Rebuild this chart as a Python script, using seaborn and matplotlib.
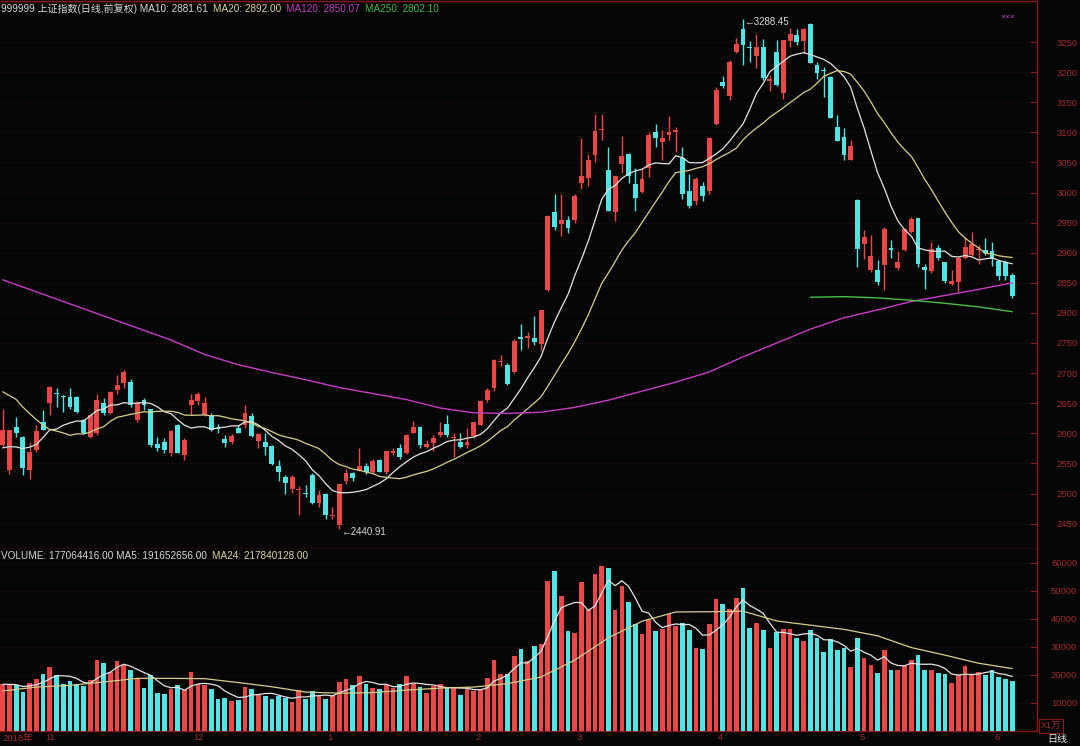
import numpy as np
import pandas as pd
import matplotlib
matplotlib.use("Agg")
import matplotlib.pyplot as plt
import seaborn as sns

# ------------------------------------------------------------------ data
month_labels = ["2018年", "11", "12", "1", "2", "3", "4", "5", "6"]
month_start_idx = [6, 28, 48, 70, 85, 106, 127, 147]

pre_closes = [2730.85, 2729.24, 2797.49, 2781.14, 2806.81, 2791.77, 2821.35,
              2716.51, 2721.01, 2725.84, 2583.46, 2606.91, 2568.10, 2546.33,
              2561.61, 2486.42, 2550.47, 2654.88, 2594.83]

open_ = [2581, 2539, 2611, 2594, 2539, 2573, 2618, 2650, 2667, 2662,
         2661, 2661, 2622, 2594, 2600, 2650, 2633, 2672, 2683, 2686,
         2622, 2656, 2640, 2582, 2586, 2567, 2614, 2564, 2647, 2653,
         2630, 2630, 2609, 2591, 2586, 2608, 2614, 2629, 2588, 2586,
         2579, 2545, 2528, 2507, 2506, 2501, 2531, 2484, 2500, 2463,
         2448, 2520, 2534, 2538, 2546, 2536, 2556, 2536, 2568, 2575,
         2567, 2600, 2611, 2577, 2584, 2597, 2616, 2593, 2586, 2581,
         2595, 2614, 2656, 2675, 2718, 2713, 2701, 2760, 2759, 2759,
         2749, 2838, 2968, 2948, 2955, 2955, 3015, 3024, 3062, 3103,
         3038, 2968, 3048, 3064, 3014, 3001, 3040, 3101, 3084, 3096,
         3101, 3058, 3003, 2986, 3010, 3002, 3114, 3184, 3160, 3234,
         3271, 3241, 3226, 3242, 3186, 3234, 3166, 3251, 3262, 3251,
         3280, 3212, 3204, 3192, 3109, 3093, 3054, 2987, 2915, 2871,
         2872, 2880, 2907, 2874, 2905, 2935, 2957, 2877, 2869, 2907,
         2884, 2848, 2852, 2891, 2896, 2904, 2905, 2902, 2887, 2885,
         2863]

high = [2640, 2606, 2627, 2595, 2586, 2614, 2638, 2678, 2675, 2663,
        2676, 2662, 2623, 2631, 2666, 2658, 2670, 2697, 2705, 2691,
        2653, 2658, 2641, 2594, 2592, 2605, 2615, 2592, 2666, 2668,
        2661, 2633, 2615, 2597, 2599, 2614, 2647, 2633, 2601, 2600,
        2580, 2556, 2531, 2531, 2513, 2514, 2534, 2505, 2501, 2478,
        2516, 2540, 2536, 2575, 2551, 2557, 2558, 2571, 2575, 2583,
        2599, 2621, 2612, 2589, 2597, 2618, 2630, 2600, 2600, 2608,
        2618, 2655, 2675, 2724, 2730, 2716, 2756, 2781, 2769, 2795,
        2805, 2962, 2997, 2997, 2961, 2997, 3091, 3064, 3130, 3130,
        3076, 3028, 3094, 3066, 3040, 3040, 3101, 3114, 3104, 3127,
        3108, 3075, 3030, 3025, 3018, 3093, 3176, 3193, 3220, 3256,
        3288.45, 3251, 3264, 3255, 3195, 3253, 3254, 3273, 3271, 3273,
        3281, 3217, 3209, 3193, 3129, 3107, 3087, 2990, 2938, 2929,
        2888, 2943, 2921, 2903, 2940, 2959, 2958, 2882, 2918, 2913,
        2885, 2871, 2893, 2926, 2935, 2913, 2924, 2918, 2888, 2888,
        2866]

low = [2578, 2533, 2594, 2531, 2524, 2569, 2605, 2630, 2644, 2636,
       2640, 2633, 2599, 2592, 2597, 2630, 2632, 2666, 2675, 2644,
       2619, 2639, 2578, 2570, 2567, 2563, 2567, 2556, 2630, 2647,
       2629, 2604, 2601, 2578, 2583, 2600, 2608, 2594, 2575, 2564,
       2547, 2520, 2499, 2501, 2464, 2495, 2483, 2478, 2457, 2457,
       2440.91, 2516, 2520, 2537, 2533, 2533, 2535, 2533, 2564, 2558,
       2566, 2600, 2575, 2575, 2571, 2594, 2594, 2561, 2575, 2575,
       2593, 2613, 2652, 2671, 2711, 2680, 2700, 2738, 2741, 2747,
       2738, 2836, 2937, 2927, 2932, 2950, 3006, 3010, 3051, 3087,
       2969, 2953, 3032, 3015, 2970, 3000, 3026, 3076, 3054, 3087,
       3068, 2990, 2975, 2980, 2986, 2998, 3112, 3173, 3154, 3231,
       3212, 3217, 3206, 3187, 3169, 3177, 3155, 3242, 3245, 3231,
       3215, 3188, 3159, 3123, 3086, 3054, 3054, 2876, 2889, 2868,
       2846, 2838, 2892, 2872, 2903, 2933, 2876, 2839, 2867, 2888,
       2849, 2846, 2834, 2889, 2895, 2882, 2896, 2878, 2854, 2855,
       2824]

close = [2605, 2605, 2601, 2542, 2569, 2604, 2606, 2677, 2665, 2660,
         2644, 2636, 2600, 2630, 2655, 2633, 2669, 2680, 2702, 2647,
         2650, 2647, 2581, 2575, 2573, 2603, 2568, 2589, 2655, 2666,
         2651, 2605, 2607, 2584, 2596, 2601, 2634, 2596, 2599, 2578,
         2549, 2536, 2517, 2528, 2507, 2500, 2484, 2498, 2464, 2465,
         2515, 2534, 2526, 2545, 2535, 2554, 2536, 2570, 2570, 2560,
         2597, 2611, 2580, 2583, 2592, 2602, 2597, 2594, 2577, 2585,
         2618, 2654, 2672, 2721, 2720, 2682, 2754, 2756, 2761, 2752,
         2804, 2961, 2942, 2954, 2941, 2994, 3028, 3054, 3102, 3106,
         2970, 3027, 3060, 3027, 2991, 3022, 3096, 3091, 3091, 3101,
         3104, 2997, 2977, 3023, 2995, 3091, 3170, 3177, 3216, 3247,
         3245, 3240, 3242, 3190, 3189, 3178, 3254, 3263, 3250, 3271,
         3215, 3199, 3202, 3124, 3086, 3063, 3078, 2906, 2926, 2894,
         2851, 2939, 2904, 2884, 2939, 2956, 2882, 2871, 2906, 2892,
         2853, 2853, 2892, 2910, 2915, 2906, 2899, 2890, 2862, 2861,
         2828]

# volume in units of 10,000 (x1万)
volume = [16660, 16660, 16300, 13920, 17140, 18680, 20470, 22850, 19870, 16660,
          17730, 16660, 15950, 18090, 25470, 24400, 21060, 24870, 23440, 21900,
          18680, 15470, 19870, 13690, 13090, 15110, 16300, 14520, 21060, 16900,
          16300, 14880, 11540, 11900, 10590, 10950, 15710, 15110, 12730, 12380,
          11310, 12500, 11900, 10350, 14520, 11540, 14160, 12500, 11540, 12730,
          17490, 18450, 16300, 19640, 16660, 15470, 15110, 16540, 15350, 16900,
          19640, 17260, 15710, 13690, 16070, 16660, 15350, 15710, 12970, 15710,
          14160, 15110, 19040, 25230, 20230, 20230, 26660, 29390, 24990, 30350,
          30940, 53550, 57120, 48080, 35700, 35110, 53190, 43080, 55930, 58900,
          58310, 43320, 51770, 46050, 38080, 34750, 39750, 35700, 36300, 41890,
          37490, 38600, 35940, 29630, 29390, 38080, 47000, 45220, 43440, 47480,
          51070, 36890, 38680, 35940, 29630, 35340, 36300, 36300, 33320, 32130,
          35940, 33320, 28200, 32960, 28800, 29630, 22850, 33200, 26060, 23680,
          20710, 29040, 21900, 21660, 23090, 25470, 27250, 21660, 21900, 20710,
          20230, 17260, 19870, 23090, 20470, 21060, 19870, 21900, 19280, 18680,
          17706]

# long moving averages every 5 sessions
ma_step = 5
ma120_pts = [2855, 2835, 2815, 2795, 2775, 2755, 2731, 2714, 2701, 2689,
             2676, 2666, 2656, 2642, 2634, 2633, 2635, 2643, 2655, 2670,
             2685, 2702, 2727, 2750, 2773, 2792, 2805, 2819, 2829, 2839, 2850]
ma250_start = 120
ma250_pts = [2826, 2827, 2825, 2821, 2816, 2810, 2802]
vol_ma24_pts = [14300, 15700, 16300, 17500, 18800, 18800, 18700, 17300, 15800, 13900,
                13500, 13700, 14600, 15300, 15700, 16900, 19300, 25300, 33300, 39200,
                42500, 42600, 42800, 39300, 37800, 36300, 34000, 29800, 27100, 24200, 22300]

price_ticks = list(range(2450, 3251, 50))
vol_ticks = [10000, 20000, 30000, 40000, 50000, 60000]

header_price = [("999999 上证指数(日线,前复权) MA10: 2881.61", "#d8d8d8"),
                ("MA20: 2892.00", "#d8d49a"),
                ("MA120: 2850.07", "#c03cc0"),
                ("MA250: 2802.10", "#44b844")]
header_vol = [("VOLUME: 177064416.00 MA5: 191652656.00", "#d8d8d8"),
              ("MA24: 217840128.00", "#d8d49a")]

# ------------------------------------------------------------------ style
BG = "#060606"
RED = "#ec4646"
CYAN = "#50e4e4"
AXRED = "#861a1a"
GRIDRED = "#4a1010"
LBLRED = "#a02a2a"
MA_WHITE = "#e4e4e4"
MA_YEL = "#d8d08a"
MA_MAG = "#c83cc8"
MA_GRN = "#48c048"

sns.set_theme(style="dark", rc={"axes.facecolor": BG, "figure.facecolor": BG,
                                "savefig.facecolor": BG, "axes.edgecolor": AXRED,
                                "grid.color": GRIDRED})
plt.rcParams["font.family"] = ["Liberation Sans", "Noto Sans CJK SC", "DejaVu Sans"]

W, H = 1080, 746
fig = plt.figure(figsize=(W / 100, H / 100), dpi=100)


def box(x0, y0, x1, y1):
    return [x0 / W, 1 - y1 / H, (x1 - x0) / W, (y1 - y0) / H]


ax = fig.add_axes(box(0, 1, 1037, 549))
axv = fig.add_axes(box(0, 549, 1037, 731), sharex=ax)

n = len(close)
idx = np.arange(n)
o = np.array(open_, float)
c = np.array(close, float)
hi = np.array(high, float)
lo = np.array(low, float)
vol = np.array(volume, float)
up = c >= o
cols = np.where(up, RED, CYAN)

# candles
ax.vlines(idx, lo, hi, colors=cols, linewidth=1.0, zorder=3)
body_bottom = np.minimum(o, c)
body_h = np.maximum(np.abs(c - o), 1.6)
ax.bar(idx, body_h, bottom=body_bottom, width=0.72, color=cols, linewidth=0, zorder=4)

# moving averages
all_c = pd.Series(pre_closes + list(close), dtype=float)
ma10 = all_c.rolling(10).mean().to_numpy()[len(pre_closes):]
ma20 = all_c.rolling(20).mean().to_numpy()[len(pre_closes):]
sns.lineplot(x=idx, y=ma10, ax=ax, color=MA_WHITE, linewidth=0.9, estimator=None, zorder=5)
sns.lineplot(x=idx, y=ma20, ax=ax, color=MA_YEL, linewidth=0.9, estimator=None, zorder=5)
x120 = np.arange(len(ma120_pts)) * ma_step
sns.lineplot(x=x120, y=ma120_pts, ax=ax, color=MA_MAG, linewidth=1.0, estimator=None, zorder=5)
x250 = ma250_start + np.arange(len(ma250_pts)) * ma_step
sns.lineplot(x=x250, y=ma250_pts, ax=ax, color=MA_GRN, linewidth=1.0, estimator=None, zorder=5)

# high / low marks
ih = int(np.argmax(hi))
il = int(np.argmin(lo))
ax.annotate("\u2190" + f"{hi[ih]:.2f}", xy=(ih, hi[ih]), xytext=(1, -2), textcoords="offset points",
            ha="left", va="center", color="#d8d8d8", fontsize=7, zorder=6)
ax.annotate("\u2190" + f"{lo[il]:.2f}", xy=(il, lo[il]), xytext=(1, -2), textcoords="offset points",
            ha="left", va="center", color="#d8d8d8", fontsize=7, zorder=6)

# volume
axv.bar(idx, vol, width=0.7, color=cols, linewidth=0, zorder=3)
vma5 = pd.Series(vol).rolling(5, min_periods=1).mean().to_numpy()
sns.lineplot(x=idx, y=vma5, ax=axv, color=MA_WHITE, linewidth=0.9, estimator=None, zorder=5)
xv24 = np.arange(len(vol_ma24_pts)) * ma_step
sns.lineplot(x=xv24, y=vol_ma24_pts, ax=axv, color=MA_YEL, linewidth=0.9, estimator=None, zorder=5)

# axes limits / ticks
x_left = -2.7 / 6.73
x_right = (1037 - 2.7) / 6.73
ax.set_xlim(x_left, x_right)
ax.set_ylim(3250 - (549 - 42) / 0.602, 3250 + (42 - 1) / 0.602)
axv.set_ylim(0, 65000)

for a, ticks in ((ax, price_ticks), (axv, vol_ticks)):
    a.set_facecolor(BG)
    a.yaxis.tick_right()
    a.set_yticks(ticks)
    a.set_yticklabels([str(t) for t in ticks])
    a.tick_params(axis="y", direction="in", length=5, width=0.8, color=AXRED,
                  labelcolor=LBLRED, labelsize=6.8, pad=29)
    for lbl in a.get_yticklabels():
        lbl.set_horizontalalignment("right")
    a.grid(True, axis="y", color=GRIDRED, linestyle=(0, (1, 3)), linewidth=0.7)
    a.grid(False, axis="x")
    a.spines["left"].set_visible(False)
    for s in ("right", "top", "bottom"):
        a.spines[s].set_color(AXRED)
        a.spines[s].set_linewidth(1.0)
    a.set_xlabel("")
    a.set_ylabel("")

ax.tick_params(axis="x", bottom=False, labelbottom=False)
axv.spines["top"].set_visible(False)
axv.set_xticks(month_start_idx)
axv.tick_params(axis="x", direction="out", length=11, width=0.8, color=AXRED,
                labelbottom=False)

axv.annotate(month_labels[0], xy=(0.002, 0), xycoords="axes fraction", xytext=(0, -7),
             textcoords="offset pixels", ha="left", va="center", color=LBLRED, fontsize=6.8)
for lab, mi in zip(month_labels[1:], month_start_idx):
    axv.annotate(lab, xy=(mi, 0), xycoords=("data", "axes fraction"), xytext=(2, -7),
                 textcoords="offset pixels", ha="left", va="center", color=LBLRED, fontsize=6.8)

# headers
renderer = fig.canvas.get_renderer()


def header(parts, ypx):
    x = 1
    for txt, col in parts:
        t = fig.text(x / W, 1 - ypx / H, txt, color=col, fontsize=7.2, ha="left", va="center")
        bb = t.get_window_extent(renderer)
        x += bb.width + 5


header(header_price, 9)
header(header_vol, 556)

# corner marks
fig.text(1008 / W, 1 - 17 / H, "×××", color="#c83cc8", fontsize=6, ha="center", va="center")
fig.text(1051 / W, 1 - 726 / H, "X1万", color=LBLRED, fontsize=6.5, ha="center", va="center",
         bbox=dict(boxstyle="square,pad=0.25", fc="none", ec=AXRED, lw=0.8))
fig.text(1057 / W, 1 - 739 / H, "日线", color="#e8e8e8", fontsize=7.2, ha="center", va="center")

fig.savefig("out.png", dpi=100, facecolor=BG)
